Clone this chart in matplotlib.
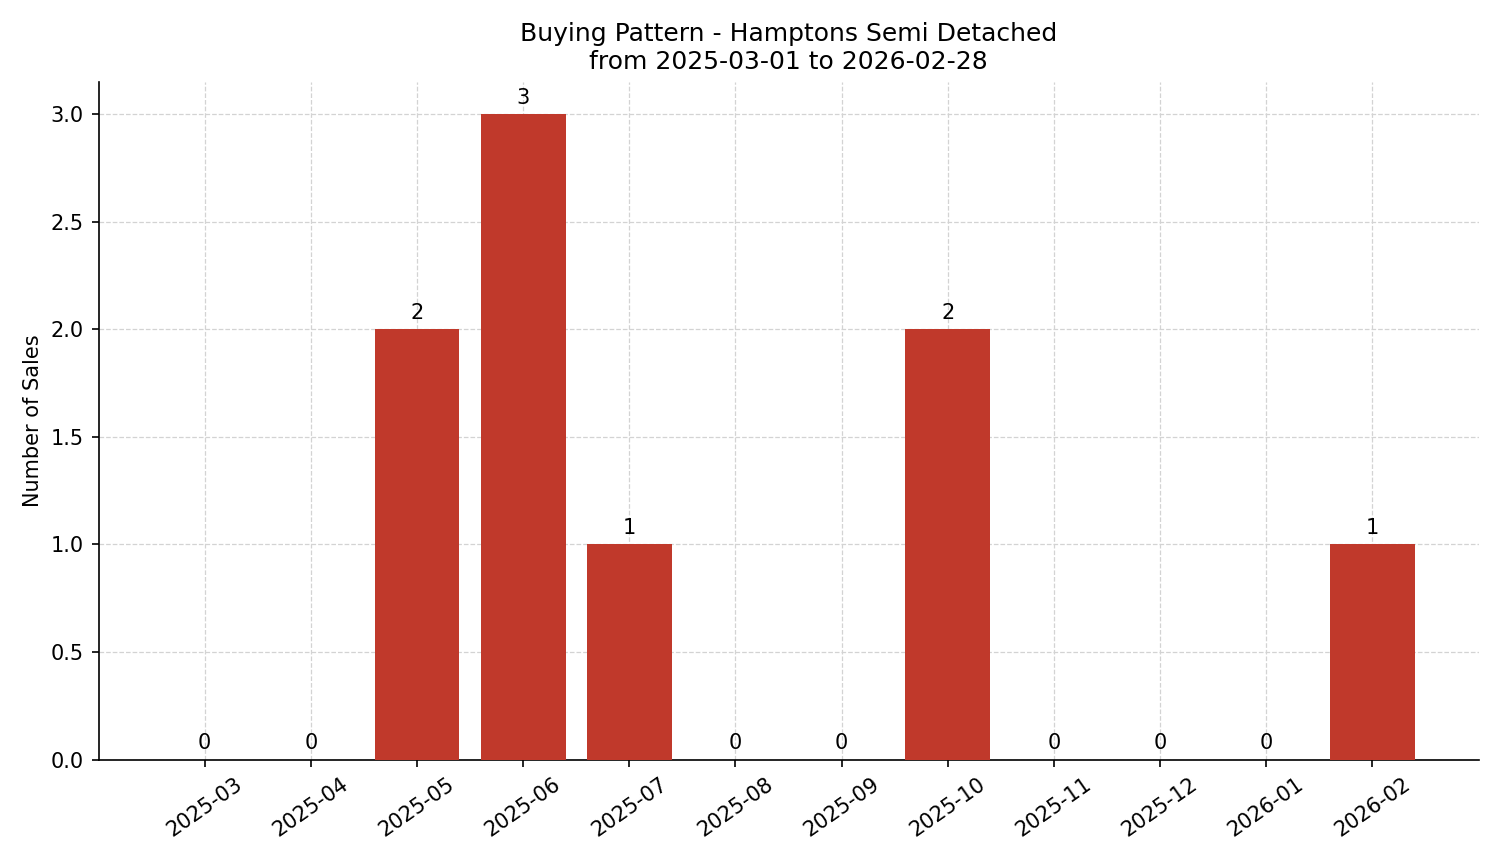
import numpy as np
import matplotlib.pyplot as plt

months = ["2025-03", "2025-04", "2025-05", "2025-06", "2025-07", "2025-08",
          "2025-09", "2025-10", "2025-11", "2025-12", "2026-01", "2026-02"]
sales = [0, 0, 2, 3, 1, 0, 0, 2, 0, 0, 0, 1]

fig, ax = plt.subplots(figsize=(1501 / 150, 863 / 150), dpi=150)
x = np.arange(len(months))
bars = ax.bar(x, sales, width=0.8, color="#c0392b", zorder=3)
for xi, v in zip(x, sales):
    ax.text(xi, v + 0.03, str(v), ha="center", va="bottom", fontsize=10)

ax.set_xticks(x)
ax.set_xticklabels(months, rotation=35)
ax.set_xlim(-1, len(months))
ax.set_ylim(0, 3.15)
ax.set_ylabel("Number of Sales")
ax.set_title("Buying Pattern - Hamptons Semi Detached\nfrom 2025-03-01 to 2026-02-28")
ax.grid(True, linestyle="--", color="lightgray", linewidth=0.6, zorder=0)
ax.spines["top"].set_visible(False)
ax.spines["right"].set_visible(False)

plt.tight_layout()
plt.savefig("out.png", dpi=150)
